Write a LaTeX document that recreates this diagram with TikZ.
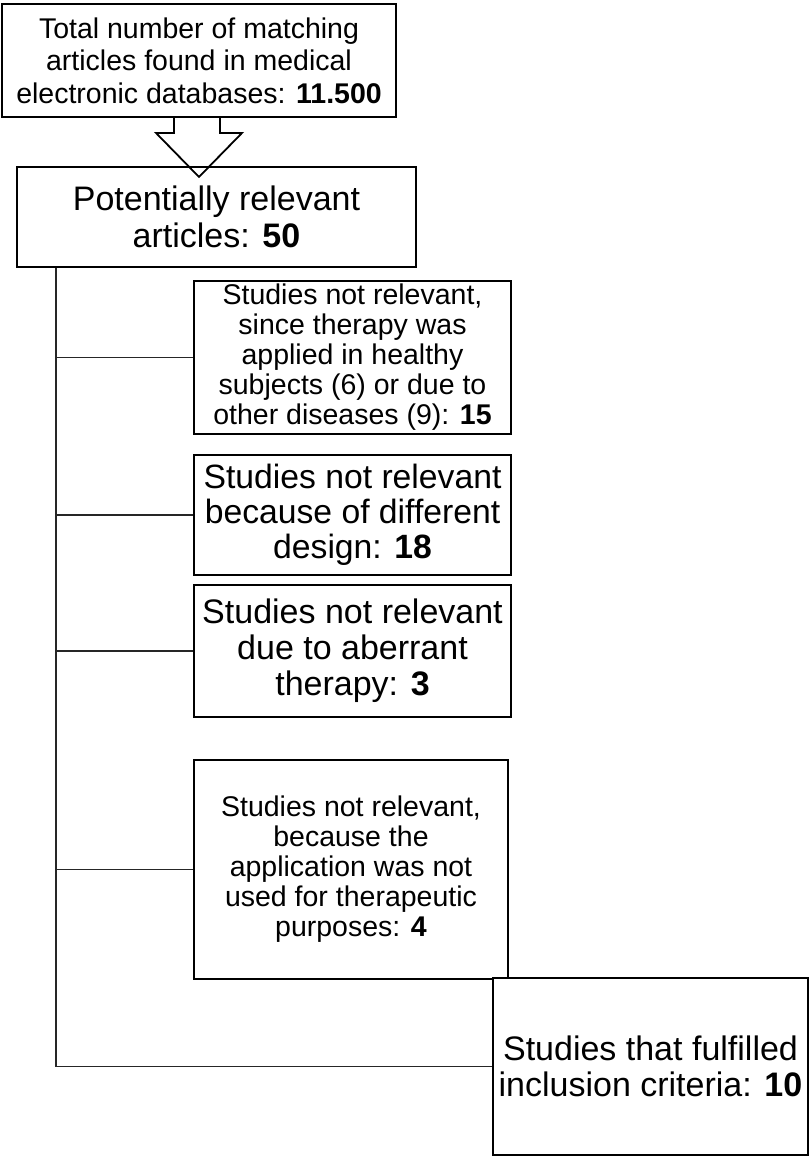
\documentclass[tikz,border=0pt]{standalone}
\usepackage{fontspec}
\setmainfont{Liberation Sans}
\usetikzlibrary{calc}
\begin{document}
\begin{tikzpicture}[x=1pt,y=-1pt,
  boxn/.style={draw=black,line width=1.9pt,fill=white,inner sep=0pt,align=center,anchor=center},
  link/.style={draw=black!85,line width=1.8pt}]
\useasboundingbox (0,0) rectangle (810,1157);
% top box
\node[boxn,minimum width=394pt,minimum height=113pt,
  font=\fontsize{28.5}{32.5}\selectfont] (top) at (199,60.5)
  {Total number of matching\\articles found in medical\\electronic databases: \textbf{11.500}};
% block arrow
\draw[line width=1.8pt,line join=miter]
  ($(top.south)+(-25,0)$) -- ($(top.south)+(-25,15)$) -- ($(top.south)+(-43,15)$)
  -- ($(top.south)+(0,59)$) -- ($(top.south)+(43,15)$) -- ($(top.south)+(21,15)$)
  -- ($(top.south)+(21,0)$);
% potentially relevant
\node[boxn,fill=none,minimum width=399pt,minimum height=100pt,
  font=\fontsize{34}{37}\selectfont] (pot) at (216.5,217)
  {Potentially relevant\\articles: \textbf{50}};
% excluded boxes
\node[boxn,minimum width=317pt,minimum height=153pt,
  font=\fontsize{28.5}{30}\selectfont] (b1) at (352.5,357.5)
  {Studies not relevant,\\since therapy was\\applied in healthy\\subjects (6) or due to\\other diseases (9): \textbf{15}};
\node[boxn,minimum width=317pt,minimum height=120pt,
  font=\fontsize{33.7}{35}\selectfont] (b2) at (352.5,515)
  {Studies not relevant\\because of different\\design: \textbf{18}};
\node[boxn,minimum width=317pt,minimum height=132pt,
  font=\fontsize{34}{36}\selectfont] (b3) at (352.5,651)
  {Studies not relevant\\due to aberrant\\therapy: \textbf{3}};
\node[boxn,minimum width=314pt,minimum height=219pt,
  font=\fontsize{28.5}{30}\selectfont] (b4) at (351,869.5)
  {Studies not relevant,\\because the\\application was not\\used for therapeutic\\purposes: \textbf{4}};
\node[boxn,minimum width=315pt,minimum height=177pt,
  font=\fontsize{34}{36}\selectfont] (fin) at (650.5,1066.5)
  {Studies that fulfilled\\inclusion criteria: \textbf{10}};
% trunk
\coordinate (trunk) at ($(pot.south west)+(40,0)$);
\draw[link] (trunk) |- (fin.west);
\foreach \n in {b1,b2,b3,b4}{
  \draw[link] (\n.west) -- (\n.west -| trunk);
}
\end{tikzpicture}
\end{document}
